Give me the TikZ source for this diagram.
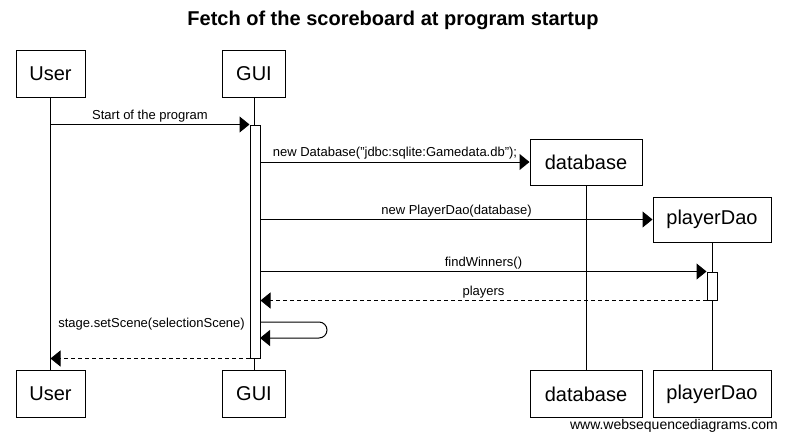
\documentclass[tikz,border=0pt]{standalone}
\usepackage{fontspec}
\setmainfont{Liberation Sans}
\usetikzlibrary{arrows.meta}
\begin{document}
\begin{tikzpicture}[x=1pt, y=-1pt,
        actor/.style={rectangle, draw, line width=1pt, fill=white, inner sep=0pt, minimum height=47pt, font=\fontsize{20}{24}\selectfont},
        act/.style={rectangle, draw, line width=1pt, fill=white, inner sep=0pt, minimum width=10pt},
        life/.style={line width=1pt},
        msg/.style={-{Triangle[length=10pt, width=16pt]}, line width=1pt},
        ret/.style={msg, dash pattern=on 4pt off 3pt},
        lbl/.style={font=\fontsize{13}{15}\selectfont, inner sep=2pt}
    ]
    \useasboundingbox (0,0) rectangle (786,442);

    \node[font=\bfseries\fontsize{20}{24}\selectfont] (title) at (393,20) {Fetch of the scoreboard at program startup};

    \node[actor, minimum width=69pt] (userTop) at (50.5,73.5) {User};
    \node[actor, minimum width=63pt] (guiTop) at (254,73.5) {GUI};
    \node[actor, minimum width=112pt, minimum height=46pt] (dbTop) at (586,162) {database};
    \node[actor, minimum width=118pt, minimum height=45pt] (daoTop) at (712,219.5) {playerDao};

    \node[actor, minimum width=69pt] (userBot) at (50.5,394) {User};
    \node[actor, minimum width=63pt] (guiBot) at (254,394) {GUI};
    \node[actor, minimum width=112pt] (dbBot) at (586,394) {database};
    \node[actor, minimum width=118pt] (daoBot) at (712,394) {playerDao};

    % lifelines
    \draw[life] (userTop) -- (userBot);
    \draw[life] (guiTop) -- (guiBot);
    \draw[life] (dbTop) -- (dbBot);
    \draw[life] (daoTop) -- (daoBot);

    % activations
    \node[act, minimum height=233pt] (actGui) at (255,241.5) {};
    \node[act, minimum height=28pt] (actDao) at (712,286) {};

    \draw[msg] (userTop |- actGui.north) -- (actGui.north west) node[lbl, midway, above] {Start of the program};
    \draw[msg] (actGui.east |- dbTop) -- (dbTop.west) node[lbl, midway, above] {new Database("jdbc:sqlite:Gamedata.db");};
    \draw[msg] (actGui.east |- daoTop) -- (daoTop.west) node[lbl, midway, above] {new PlayerDao(database)};
    \draw[msg] (actGui.east |- actDao.north) -- (actDao.north west) node[lbl, midway, above] {findWinners()};
    \draw[ret] (actDao.south west) -- (actGui.east |- actDao.south) node[lbl, midway, above] {players};

    % self call
    \coordinate (selfOut) at (260,322);
    \coordinate (selfIn) at (260,338);
    \draw[msg, rounded corners=8pt] (selfOut) -- ++(67,0) -- ++(0,16) -- (selfIn);
    \node[lbl, anchor=east] (selfLbl) at (247,324) {stage.setScene(selectionScene)};

    \draw[ret] (actGui.south west) -- (userTop |- actGui.south);

    \node[font=\fontsize{14}{16}\selectfont, anchor=south east, inner sep=0pt] (wsd) at (778,433) {www.websequencediagrams.com};
\end{tikzpicture}
\end{document}
